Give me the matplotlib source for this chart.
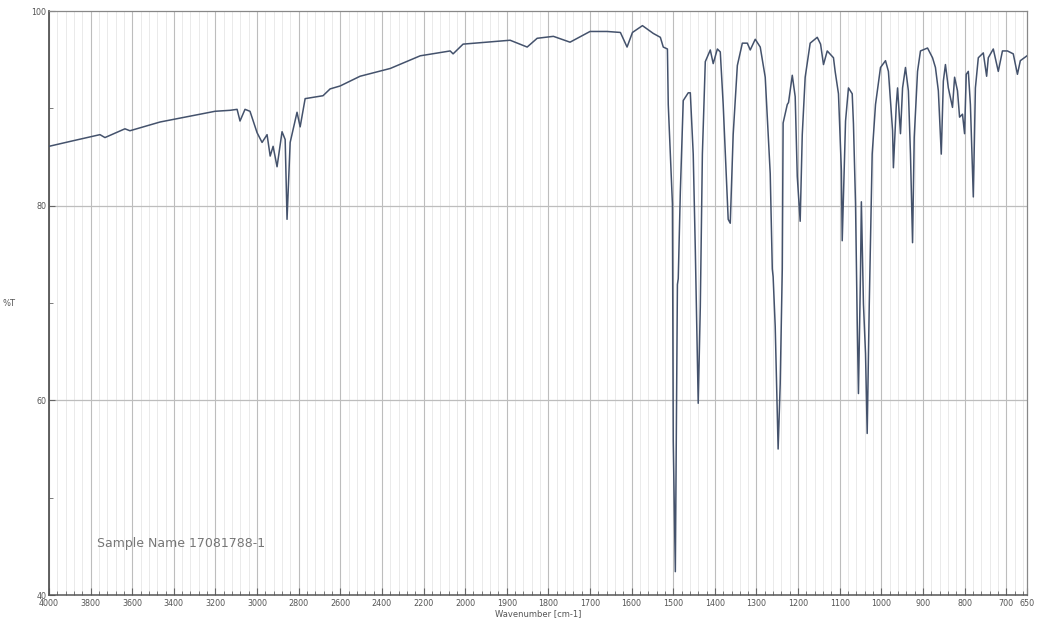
import numpy as np
import matplotlib
matplotlib.use("Agg")
import matplotlib.pyplot as plt
from matplotlib.ticker import FixedLocator, FixedFormatter

# ---- data: wavenumber (cm-1) and %T ----
wavenumber = [
    4000, 3899, 3755, 3731, 3635, 3611, 3466, 3202, 3130, 3096, 3082, 3058, 3034,
    3000, 2976, 2952, 2937, 2923, 2904, 2880, 2865, 2856, 2841, 2808, 2793, 2769,
    2711, 2683, 2649, 2601, 2505, 2360, 2216, 2072, 2058, 2010,
    1892, 1851, 1827, 1788, 1748, 1700, 1659, 1627, 1611, 1598, 1574, 1548, 1531,
    1524, 1514, 1512, 1502, 1500, 1495, 1490, 1488, 1483, 1476, 1464, 1459, 1452,
    1447, 1440, 1435, 1430, 1423, 1411, 1404, 1394, 1387, 1380, 1368, 1363, 1356,
    1346, 1334, 1322, 1315, 1303, 1291, 1279, 1267, 1262, 1260, 1255, 1248, 1243,
    1238, 1236, 1226, 1223, 1214, 1207, 1202, 1195, 1190, 1183, 1171, 1154, 1146,
    1139, 1130, 1115, 1111, 1103, 1096, 1094, 1086, 1079, 1070, 1067, 1062, 1058,
    1055, 1050, 1048, 1043, 1038, 1034, 1029, 1022, 1014, 1002, 990, 983, 973,
    971, 964, 961, 954, 949, 942, 935, 930, 925, 921, 913, 906, 889, 877, 870,
    863, 856, 851, 846, 839, 829, 824, 817, 812, 805, 800, 796, 791, 786, 779,
    774, 767, 755, 747, 743, 731, 719, 709, 697, 683, 673, 666, 650,
]
transmittance = [
    86.1, 86.6, 87.3, 87.0, 87.9, 87.7, 88.6, 89.7, 89.8, 89.9, 88.7, 89.9, 89.7,
    87.5, 86.5, 87.3, 85.1, 86.1, 84.0, 87.6, 86.8, 78.6, 86.5, 89.6, 88.1, 91.0,
    91.2, 91.3, 92.0, 92.3, 93.3, 94.1, 95.4, 95.9, 95.6, 96.6,
    97.0, 96.3, 97.2, 97.4, 96.8, 97.9, 97.9, 97.8, 96.3, 97.8, 98.5, 97.7, 97.3,
    96.3, 96.1, 90.4, 80.2, 55.8, 42.4, 71.9, 72.5, 81.4, 90.8, 91.6, 91.6, 85.3,
    75.5, 59.7, 69.6, 85.3, 94.8, 96.0, 94.6, 96.1, 95.8, 90.4, 78.6, 78.2, 87.3,
    94.4, 96.7, 96.7, 96.0, 97.1, 96.3, 93.2, 83.3, 73.5, 72.7, 67.6, 55.0, 61.7,
    73.5, 88.5, 90.4, 90.6, 93.4, 91.2, 83.0, 78.4, 87.3, 93.2, 96.7, 97.3, 96.6,
    94.5, 95.9, 95.2, 93.8, 91.5, 83.6, 76.4, 88.7, 92.1, 91.5, 88.4, 80.2, 68.2,
    60.7, 73.3, 80.4, 69.9, 64.8, 56.6, 69.9, 85.3, 90.4, 94.2, 94.9, 93.8, 87.7,
    83.9, 90.4, 92.1, 87.4, 92.1, 94.2, 91.8, 85.3, 76.2, 87.0, 93.8, 95.9, 96.2,
    95.2, 94.2, 91.8, 85.3, 92.8, 94.5, 92.1, 90.1, 93.2, 91.8, 89.1, 89.4, 87.4,
    93.5, 93.8, 90.4, 80.9, 92.1, 95.2, 95.7, 93.3, 95.2, 96.1, 93.8, 95.9, 95.9,
    95.6, 93.5, 94.9, 95.4,
]

x_major = [4000, 3800, 3600, 3400, 3200, 3000, 2800, 2600, 2400, 2200, 2000,
           1900, 1800, 1700, 1600, 1500, 1400, 1300, 1200, 1100, 1000, 900, 800, 700, 650]
x_labels = [str(v) for v in x_major]
y_major = [40, 60, 80, 100]
y_minor = [50, 70, 90]
sample_text = "Sample Name 17081788-1"

# ---- split wavenumber scale: 200 cm-1 per division above 2000, 100 below ----
def forward(w):
    w = np.asarray(w, dtype=float)
    return np.where(w <= 2000, w / 100.0, 20.0 + (w - 2000.0) / 200.0)

def inverse(u):
    u = np.asarray(u, dtype=float)
    return np.where(u <= 20, u * 100.0, 2000.0 + (u - 20.0) * 200.0)

fig = plt.figure(figsize=(10.4, 6.27), dpi=100)
ax = fig.add_axes([0.0471, 0.051, 0.9404, 0.9314])
ax.set_xscale('function', functions=(forward, inverse))
ax.set_xlim(4000, 650)
ax.set_ylim(40, 100)

x_minor = list(range(2040, 4000, 40)) + list(range(660, 2000, 20))
ax.xaxis.set_major_locator(FixedLocator(x_major))
ax.xaxis.set_major_formatter(FixedFormatter(x_labels))
ax.xaxis.set_minor_locator(FixedLocator(x_minor))
ax.yaxis.set_major_locator(FixedLocator(y_major))
ax.yaxis.set_minor_locator(FixedLocator(y_minor))

# grid
for v in x_major[:-1]:
    ax.axvline(v, color='#bdbdbd', lw=0.8, zorder=1)
for v in x_minor:
    ax.axvline(v, color='#e6e6e6', lw=0.6, zorder=0.5)
for v in [60, 80]:
    ax.axhline(v, color='#bdbdbd', lw=0.9, zorder=1)

ax.plot(wavenumber, transmittance, color='#44526c', lw=1.1, zorder=3)

ax.tick_params(axis='both', which='both', direction='in', colors='#666666',
               labelsize=5.8, labelcolor='#555555')
ax.tick_params(axis='x', which='major', length=5, pad=3)
ax.tick_params(axis='x', which='minor', length=3)
ax.tick_params(axis='y', which='major', length=4, pad=2)
ax.tick_params(axis='y', which='minor', length=3)

for s in ax.spines.values():
    s.set_color('#888888')
    s.set_linewidth(0.9)
ax.spines['left'].set_color('#555555')
ax.spines['left'].set_linewidth(1.3)
ax.spines['bottom'].set_color('#555555')
ax.spines['bottom'].set_linewidth(1.1)

ax.set_ylabel('%T', fontsize=6, color='#555555', rotation=0, labelpad=16, va='center')
ax.set_xlabel('Wavenumber [cm-1]', fontsize=6, color='#555555', labelpad=1)

ax.text(0.049, 0.088, sample_text, transform=ax.transAxes, fontsize=9,
        color='#777777', va='center', ha='left')

fig.savefig('out.png', dpi=100, facecolor='white')
